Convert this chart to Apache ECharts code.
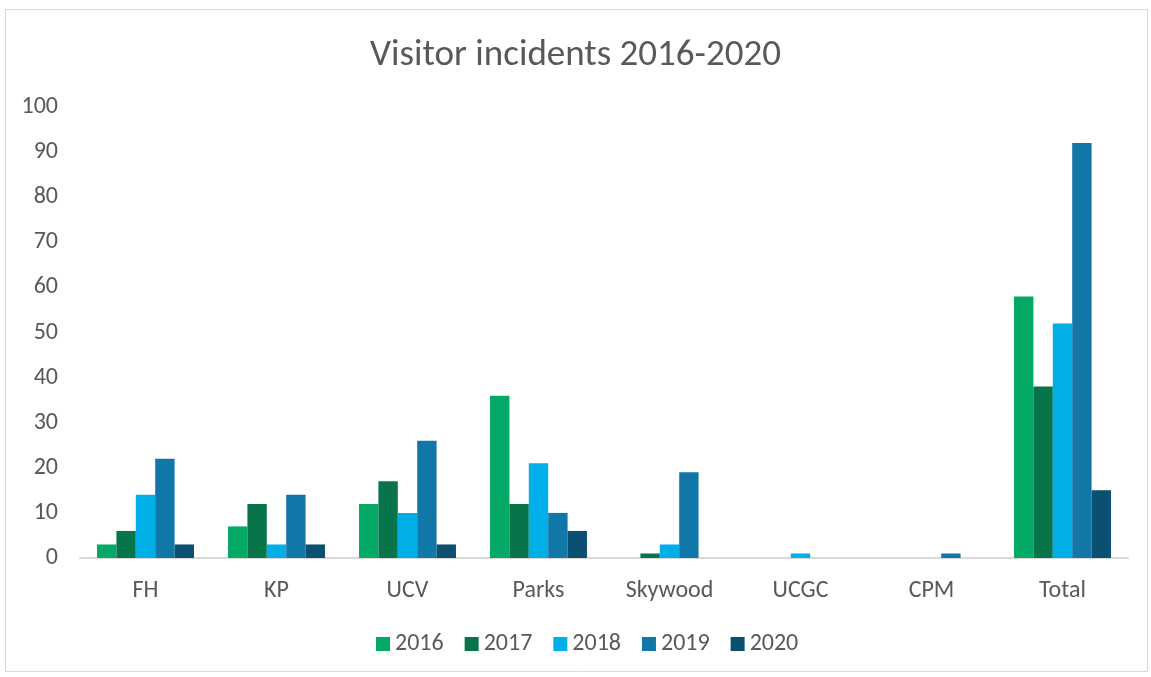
<!DOCTYPE html>
<html><head><meta charset="utf-8">
<script src="https://cdn.jsdelivr.net/npm/echarts@6/dist/echarts.min.js"></script>
<style>html,body{margin:0;padding:0;background:#fff}#c{width:1151px;height:677px}</style>
</head><body><div id="c"></div>
<script>
const categories = ['FH','KP','UCV','Parks','Skywood','UCGC','CPM','Total'];
const seriesNames = ['2016','2017','2018','2019','2020'];
const v2016 = [3,7,12,36,0,0,0,58];
const v2017 = [6,12,17,12,1,0,0,38];
const v2018 = [14,3,10,21,3,1,0,52];
const v2019 = [22,14,26,10,19,0,1,92];
const v2020 = [3,3,3,6,0,0,0,15];
const values = [v2016,v2017,v2018,v2019,v2020];
const colors = ['#04A965','#07744A','#00AEE8','#1177A9','#0B4F71'];
const font = 'Calibri, Carlito, "Liberation Sans", "Open Sans", sans-serif';
const chart = echarts.init(document.getElementById('c'));
chart.setOption({
  animation:false,
  textStyle:{fontFamily:font},
  graphic:[{type:'rect',shape:{x:5.5,y:9.5,width:1142,height:662},style:{fill:'none',stroke:'#d9d9d9',lineWidth:1},z:-1}],
  title:{text:'Visitor incidents 2016-2020',left:'center',top:32,textStyle:{fontSize:37,fontWeight:'normal',color:'#595959',fontFamily:font}},
  legend:{left:371,top:627,itemWidth:14,itemHeight:14,itemGap:21,icon:'rect',textStyle:{fontSize:24,color:'#595959',fontFamily:font},data:seriesNames},
  grid:{left:80,right:23,top:107,bottom:119},
  xAxis:{type:'category',data:categories,axisTick:{show:false},axisLine:{lineStyle:{color:'#d9d9d9',width:2}},axisLabel:{fontSize:24,color:'#595959',margin:21,fontFamily:font}},
  yAxis:{type:'value',min:0,max:100,interval:10,splitLine:{show:false},axisLine:{show:false},axisTick:{show:false},axisLabel:{fontSize:24,color:'#595959',margin:22,fontFamily:font}},
  series:seriesNames.map((n,i)=>({name:n,type:'bar',data:values[i],itemStyle:{color:colors[i]},barGap:'0%',barCategoryGap:'26%'}))
});
</script></body></html>
